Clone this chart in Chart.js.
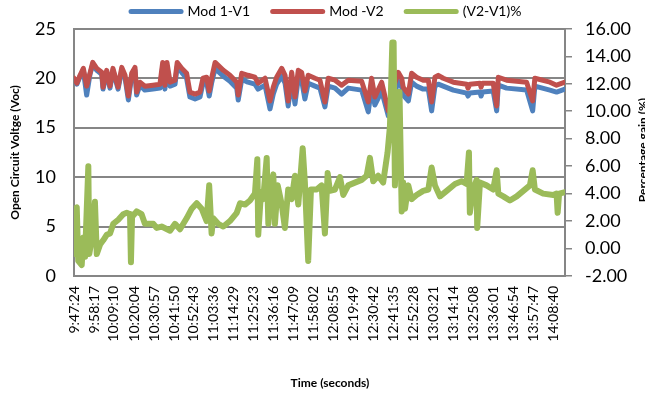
<!DOCTYPE html>
<html>
<head>
<meta charset="utf-8">
<title>Open circuit voltage</title>
<script src="https://cdn.jsdelivr.net/npm/chart.js@4.4.1/dist/chart.umd.min.js"></script>
<style>
  body { margin: 0; background: #fff; }
  canvas { display: block; }
</style>
</head>
<body>
<canvas id="vocChart" width="645" height="393"></canvas>
<script>
// time axis labels (every 653 s from the first sample)
const tickLabels = [
  "9:47:24", "9:58:17", "10:09:10", "10:20:04", "10:30:57", "10:41:50",
  "10:52:43", "11:03:36", "11:14:29", "11:25:23", "11:36:16", "11:47:09",
  "11:58:02", "12:08:55", "12:19:49", "12:30:42", "12:41:35", "12:52:28",
  "13:03:21", "13:14:14", "13:25:08", "13:36:01", "13:46:54", "13:57:47",
  "14:08:40",
];

// minutes after 9:47:24 for the two voltage series
const voltTime = [
  0.0, 1.6, 3.3, 5.1, 6.9, 8.7, 10.2, 12.4, 15.1, 15.8, 17.8, 19.6, 21.2, 24.0,
  26.0, 27.8, 29.6, 31.4, 33.2, 34.1, 35.9, 38.6, 43.0, 46.8, 48.3, 49.5, 50.6,
  52.3, 55.0, 56.2, 58.6, 61.3, 63.1, 65.9, 68.6, 70.2, 72.2, 73.6, 74.9, 76.8,
  78.5, 81.3, 84.9, 88.6, 89.4, 91.3, 94.7, 98.5, 100.2, 104.0, 106.7, 108.5,
  110.3, 113.1, 114.9, 116.6, 118.5, 120.3, 122.1, 123.9, 125.7, 127.5, 131.2,
  133.9, 136.6, 138.4, 142.1, 145.7, 149.3, 156.6, 160.2, 162.0, 163.8, 167.5,
  171.1, 172.9, 176.5, 178.4, 179.2, 182.0, 183.8, 186.5, 190.1, 192.9, 194.7,
  196.5, 198.3, 201.0, 206.5, 213.8, 214.5, 215.5, 221.0, 221.6, 222.4, 228.2,
  230.1, 231.0, 235.5, 246.4, 249.7, 250.9, 259.1, 262.7, 267.3,
];
const v1 = [
  19.9, 19.4, 20.2, 20.8, 18.3, 20.4, 21.4, 20.8, 20.4, 18.9, 20.6, 19.0, 20.8, 18.9,
  20.8, 20.0, 17.8, 20.2, 20.8, 18.3, 19.3, 18.8, 18.9, 19.0, 21.2, 18.9, 21.2,
  19.2, 19.4, 21.2, 20.6, 20.0, 18.1, 17.9, 18.1, 19.5, 19.6, 18.2, 19.5, 21.0,
  20.7, 20.2, 19.7, 19.0, 17.8, 19.9, 19.6, 19.4, 18.9, 19.3, 16.9, 18.4,
  19.4, 20.2, 19.5, 17.2, 19.8, 17.4, 20.0, 19.8, 17.9, 19.5, 19.2,
  19.0, 17.1, 19.2, 19.0, 18.4, 19.0, 18.8, 16.6, 19.1, 17.3, 18.7,
  16.2, 17.5, 19.7, 19.1, 18.3, 17.7, 19.6, 19.2, 18.9, 18.9, 16.7,
  19.2, 19.4, 19.2, 18.8, 18.5, 18.2, 18.5, 18.6, 18.2, 18.6, 18.7,
  16.7, 19.3, 19.0, 18.8, 16.7, 19.2, 18.8, 18.6, 18.9,
];
const v2 = [
  20.0, 19.5, 20.3, 21.0, 19.2, 20.5, 21.6, 21.0, 20.6, 19.1, 20.8, 19.2, 21.0, 19.1,
  21.1, 20.3, 18.2, 20.5, 21.1, 18.6, 19.6, 19.2, 19.3, 19.4, 21.6, 19.3, 21.6,
  19.6, 19.8, 21.6, 21.0, 20.5, 18.6, 18.4, 18.6, 20.0, 20.1, 18.7, 20.0, 21.6,
  21.3, 20.8, 20.3, 19.6, 18.3, 20.5, 20.3, 20.1, 19.5, 20.0, 17.7, 19.1,
  20.1, 21.0, 20.3, 17.7, 20.6, 18.1, 20.8, 20.6, 18.7, 20.3, 20.0,
  19.8, 17.6, 20.0, 19.8, 19.3, 19.8, 19.7, 17.6, 20.0, 18.1, 19.6,
  16.7, 18.4, 20.6, 20.0, 19.1, 18.4, 20.5, 20.1, 19.8, 19.8, 17.6,
  20.1, 20.3, 20.0, 19.6, 19.4, 19.0, 19.4, 19.5, 19.1, 19.5, 19.5,
  17.2, 20.1, 19.8, 19.6, 17.7, 20.0, 19.6, 19.3, 19.6,
];

// minutes after 9:47:24 for the percentage gain series
const gainTime = [
  0.0, 0.5, 1.5, 2.3, 4.2, 5.1, 6.0, 7.8, 8.3, 9.6, 11.4, 12.4, 14.2, 15.9, 17.8,
  19.6, 21.4, 24.1, 26.8, 28.7, 30.5, 31.0, 31.6, 34.1, 36.8, 38.6, 43.2, 45.0,
  47.7, 52.3, 55.0, 57.7, 61.3, 64.1, 66.8, 69.5, 72.2, 73.6, 74.9, 75.8, 78.5,
  81.3, 84.9, 88.6, 90.4, 93.1, 95.8, 98.5, 99.8, 100.3, 101.8, 103.0, 104.9,
  105.8, 107.2, 108.5, 109.4, 110.9, 113.1, 114.8, 116.6, 118.5, 120.3, 122.1,
  124.5, 125.7, 127.5, 129.0, 132.1, 134.8, 136.6, 138.1, 139.3, 142.1, 144.8,
  146.6, 149.3, 152.9, 156.6, 159.3, 161.1, 162.9, 165.6, 168.3, 170.7, 172.0,
  173.3, 174.0, 174.7, 176.5, 177.2, 178.4, 179.2, 180.2, 182.0, 183.8, 186.5,
  190.1, 192.9, 194.7, 196.5, 199.2, 202.9, 207.4, 211.0, 213.7, 215.0, 215.5,
  217.3, 219.2, 219.5, 221.0, 224.6, 228.2, 230.1, 231.0, 233.7, 237.3, 241.0,
  244.6, 248.2, 249.7, 250.9, 255.4, 260.9, 262.7, 263.3, 264.1, 267.3,
];
const gain = [
  -0.4, 2.9, 3.0, -0.9, -1.2, 0.8, -0.6, 6.0, -0.4, 0.6, 3.4, -0.4, 0.3, 0.6, 1.0,
  1.1, 1.8, 2.1, 2.5, 2.6, 2.5, -1.0, 2.3, 2.7, 2.5, 1.8, 1.8, 1.5,
  1.6, 1.3, 1.8, 1.4, 2.2, 2.9, 3.3, 2.9, 2.0, 4.6, 1.1, 2.2, 1.8,
  1.6, 2.0, 2.6, 3.3, 3.2, 3.5, 4.0, 6.5, 1.0, 4.1, 3.6, 6.6,
  1.8, 4.3, 5.4, 1.8, 4.6, 3.2, 1.5, 4.3, 3.6, 5.3, 3.2,
  7.3, 4.8, -0.9, 4.3, 4.3, 4.6, 1.1, 5.5, 4.2, 4.3, 5.2,
  3.9, 4.6, 4.8, 5.0, 5.3, 6.6, 4.9, 5.3, 4.8, 7.0, 8.9,
  15.0, 15.0, 4.6, 11.4, 11.4, 2.7, 4.8, 2.9, 4.6, 3.6, 3.9,
  4.2, 4.3, 5.9, 4.6, 3.8, 4.2, 4.7, 4.9, 4.7, 7.0, 2.6,
  4.3, 5.0, 1.5, 4.8, 4.6, 4.3, 5.7, 4.0, 3.8, 3.5, 3.8,
  4.2, 4.6, 5.7, 4.3, 4.0, 3.9, 4.0, 2.6, 4.0, 4.1,
];

function toSeconds(label) {
  const [h, m, s] = label.split(":").map(Number);
  return h * 3600 + m * 60 + s;
}

function toPoints(times, values) {
  return times.map((t, i) => ({ x: t, y: values[i] }));
}

const startSec = toSeconds(tickLabels[0]);
const tickMinutes = tickLabels.map((l) => (toSeconds(l) - startSec) / 60);

const GRID = "#868686";

// legend + right and bottom axis titles, Excel style
const extras = {
  id: "extras",
  afterDraw(chart) {
    const ctx = chart.ctx;
    ctx.save();
    ctx.font = "14px Lato";
    ctx.textBaseline = "middle";
    ctx.textAlign = "left";
    const items = chart.data.datasets.map((ds) => ({
      text: ds.label,
      color: ds.borderColor,
      w: ctx.measureText(ds.label).width,
    }));
    const lineLen = 55, gap = 4, itemGap = 20;
    const total =
      items.reduce((s, it) => s + lineLen + gap + it.w, 0) +
      itemGap * (items.length - 1);
    let x = 325 - total / 2;
    const y = 11.5;
    items.forEach((it) => {
      ctx.strokeStyle = it.color;
      ctx.lineWidth = 5;
      ctx.lineCap = "round";
      ctx.beginPath();
      ctx.moveTo(x + 2.5, y);
      ctx.lineTo(x + lineLen - 2.5, y);
      ctx.stroke();
      ctx.fillStyle = "#000";
      ctx.fillText(it.text, x + lineLen + gap, y);
      x += lineLen + gap + it.w + itemGap;
    });

    ctx.font = "bold 12px Lato";
    ctx.textAlign = "center";
    ctx.fillText("Time (seconds)", 330, 383);

    ctx.translate(643, 150);
    ctx.rotate(-Math.PI / 2);
    ctx.fillText("Percentage gain (%)", 0, 0);
    ctx.restore();
  },
};

Chart.defaults.font.family = "Lato";
Chart.defaults.color = "#000";

new Chart(document.getElementById("vocChart").getContext("2d"), {
  type: "line",
  data: {
    datasets: [
      {
        label: "Mod 1-V1",
        data: toPoints(voltTime, v1),
        borderColor: "#4F81BD",
        yAxisID: "y",
        order: 3,
      },
      {
        label: "Mod -V2",
        data: toPoints(voltTime, v2),
        borderColor: "#C0504D",
        yAxisID: "y",
        order: 2,
      },
      {
        label: "(V2-V1)%",
        data: toPoints(gainTime, gain),
        borderColor: "#9BBB59",
        borderWidth: 6,
        yAxisID: "y1",
        order: 1,
      },
    ],
  },
  options: {
    responsive: false,
    animation: false,
    devicePixelRatio: 1,
    layout: { padding: { top: 23, left: 0, right: 0, bottom: 0 } },
    elements: {
      line: {
        borderWidth: 5,
        tension: 0,
        borderJoinStyle: "round",
        borderCapStyle: "round",
      },
      point: { radius: 0 },
    },
    plugins: {
      legend: { display: false },
      tooltip: { enabled: false },
    },
    scales: {
      x: {
        type: "linear",
        min: 0,
        max: 267.3,
        afterBuildTicks: (scale) => {
          scale.ticks = tickMinutes.map((v) => ({ value: v }));
        },
        afterFit: (scale) => {
          scale.height = 117;
        },
        ticks: {
          autoSkip: false,
          minRotation: 90,
          maxRotation: 90,
          padding: 10,
          font: { size: 14 },
          callback: (v, i) => tickLabels[i],
        },
        grid: { display: false, drawTicks: false },
        border: { color: GRID, width: 2 },
      },
      y: {
        position: "left",
        min: 0,
        max: 25,
        afterFit: (scale) => {
          scale.width = 74;
        },
        ticks: { stepSize: 5, padding: 18, font: { size: 18 } },
        grid: { color: GRID, lineWidth: 2, drawTicks: false },
        border: { color: GRID, width: 2 },
        title: {
          display: true,
          text: "Open Circuit Voltge (Voc)",
          font: { size: 12, weight: "bold" },
          padding: { top: 8, bottom: 0 },
        },
      },
      y1: {
        position: "right",
        min: -2,
        max: 16,
        afterFit: (scale) => {
          scale.width = 80;
        },
        ticks: {
          stepSize: 2,
          padding: 13,
          font: { size: 18 },
          callback: (v) => v.toFixed(2),
        },
        grid: {
          drawOnChartArea: false,
          color: GRID,
          lineWidth: 1.5,
          tickLength: 7,
        },
        border: { color: GRID, width: 2 },
      },
    },
  },
  plugins: [extras],
});
</script>
</body>
</html>
